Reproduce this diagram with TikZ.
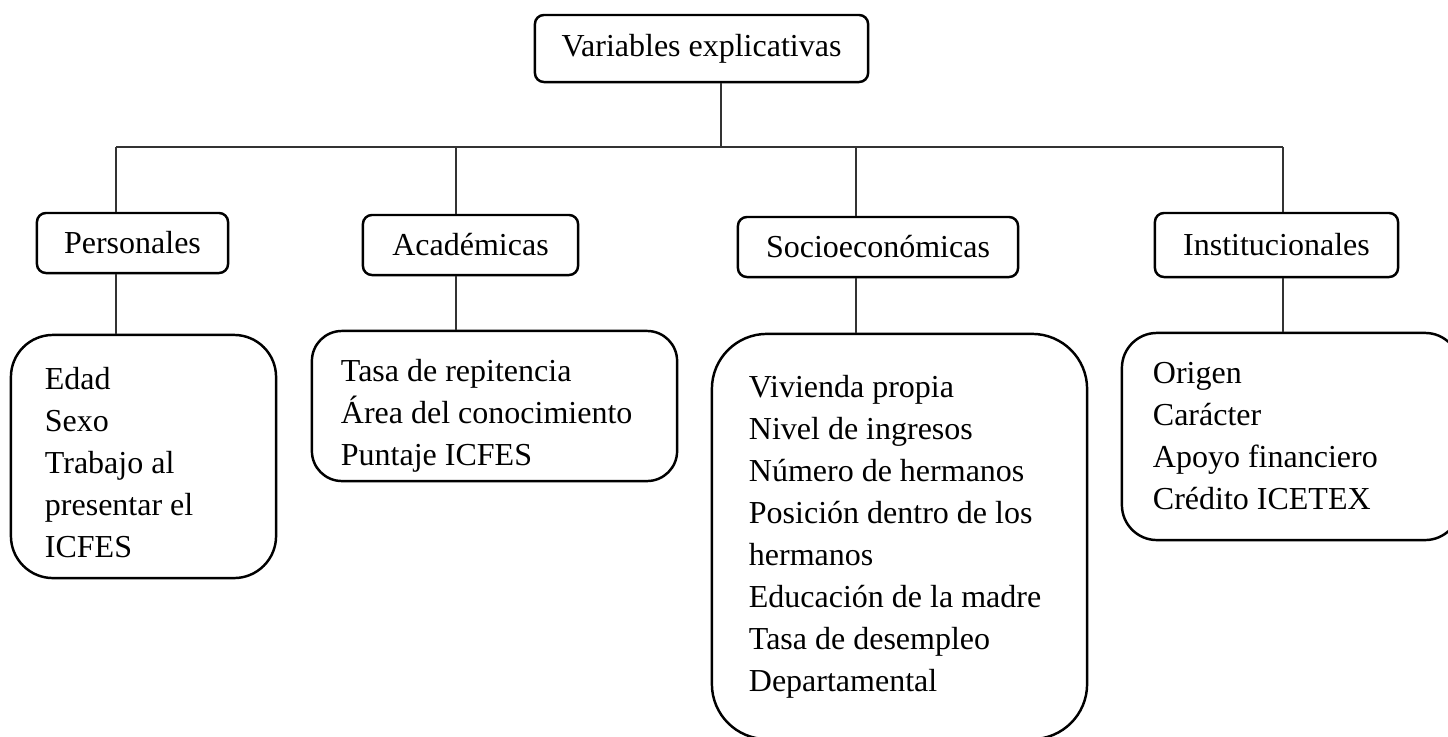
\documentclass[tikz,border=0pt]{standalone}
\usepackage{fontspec}
\setmainfont{Liberation Serif}

\begin{document}
\begin{tikzpicture}
[x = 0.01cm, y = -0.01cm,
font = \fontsize{9.1}{11.95}\selectfont,
caja/.style = {draw, line width = 0.7pt, rounded corners = 0.09cm, minimum height = 0.6cm, inner sep = 0pt},
lista/.style = {draw, line width = 0.7pt, align = left, inner ysep = 0pt, execute at begin node = {\spaceskip = 0pt\relax}},
linea/.style = {black!80, line width = 0.45pt},
]
\useasboundingbox (0,0) rectangle (1448,736);
\node [caja, minimum width = 3.33cm, minimum height = 0.67cm] (raiz) at (701.5,48.5) {Variables explicativas};
\node [caja, minimum width = 1.91cm] (pers) at (132.5,243) {Personales};
\node [caja, minimum width = 2.15cm] (acad) at (470.5,245) {Académicas};
\node [caja, minimum width = 2.80cm] (socio) at (878,247) {Socioeconómicas};
\node [caja, minimum width = 2.43cm, minimum height = 0.64cm] (inst) at (1276.5,245) {Institucionales};
\node [lista, rounded corners = 0.42cm, inner xsep = 0.34cm, text width = 1.97cm, minimum height = 2.43cm] (lpers) at (143.5,456.5)
{\rule{0pt}{0.34cm}Edad\\ Sexo\\ Trabajo al\\ presentar el\\ ICFES};
\node [lista, rounded corners = 0.3cm, inner xsep = 0.29cm, text width = 3.07cm, minimum height = 1.5cm] (lacad) at (494.5,406)
{\rule{0pt}{0.42cm}Tasa de repitencia\\ Área del conocimiento\\ Puntaje ICFES};
\node [lista, rounded corners = 0.55cm, inner xsep = 0.37cm, text width = 3.01cm, minimum height = 4.05cm] (lsocio) at (899.5,536.5)
{Vivienda propia\\ Nivel de ingresos\\ Número de hermanos\\ Posición dentro de los\\ hermanos\\ Educación de la madre\\ Tasa de desempleo\\ Departamental};
\node [lista, rounded corners = 0.35cm, inner xsep = 0.31cm, text width = 2.76cm, minimum height = 2.07cm] (linst) at (1291,436.5)
{Origen\\ Carácter\\ Apoyo financiero\\ Crédito ICETEX};
% lineas
\coordinate (bus) at (721,147);
\coordinate (p1) at (116,147);
\coordinate (a1) at (456,147);
\coordinate (s1) at (856,147);
\coordinate (i1) at (1283,147);
\draw [linea] (raiz.south -| bus) -- (bus);
\draw [linea] (p1) -- (i1);
\draw [linea] (p1) -- (p1 |- pers.north);
\draw [linea] (a1) -- (a1 |- acad.north);
\draw [linea] (s1) -- (s1 |- socio.north);
\draw [linea] (i1) -- (i1 |- inst.north);
\draw [linea] (p1 |- pers.south) -- (p1 |- lpers.north);
\draw [linea] (a1 |- acad.south) -- (a1 |- lacad.north);
\draw [linea] (s1 |- socio.south) -- (s1 |- lsocio.north);
\draw [linea] (i1 |- inst.south) -- (i1 |- linst.north);
\end{tikzpicture}
\end{document}
